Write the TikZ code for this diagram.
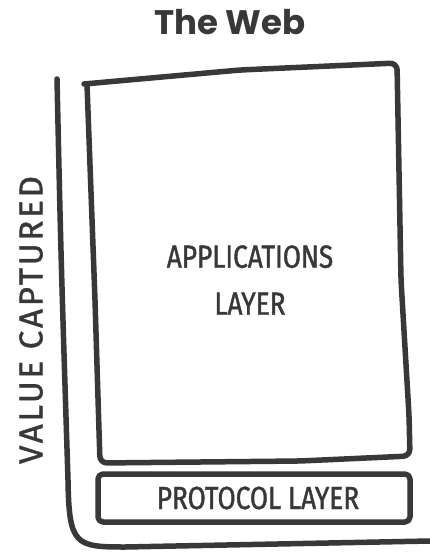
\documentclass[tikz,border=0pt]{standalone}
\usepackage{fontspec}
\newfontfamily\titlefont{Poppins}
\newfontfamily\handfont[FakeStretch=0.82, FakeBold=1.3]{Fira Sans}
\newfontfamily\handwide[LetterSpace=8.5, FakeBold=1.3]{Fira Sans}
\definecolor{ink}{HTML}{383838}

\tikzset{
  sketch/.style={draw=ink, line width=5.5pt, line cap=round, line join=round},
  handtext/.style={text=ink, font=\handfont\fontsize{32}{47}\selectfont, align=center, inner sep=0pt}
}

\begin{document}
\begin{tikzpicture}[x=1pt, y=-1pt]
     \useasboundingbox (0,0) rectangle (430,552);

     % title
     \node[text=ink, font=\titlefont\bfseries\fontsize{34}{40}\selectfont] (title) at (230,22) {The Web};

     % axis
     \draw[sketch] (57,79) .. controls (61,260) .. (68,480)
          .. controls (69,545) and (75,547) .. (125,547) -- (430,541);

     % layers
     \draw[sketch, rounded corners=7pt] (84,84) -- (240,70) -- (397,63) -- (401,280)
          -- (409,415) -- (410,456) -- (300,461) -- (100,463) -- (95,300) -- (87,84);
     \draw[sketch, rounded corners=5pt] (98,474) rectangle (410,522);

     % labels
     \node[handtext] (app) at (250,280) {APPLICATIONS\\LAYER};
     \node[handtext] (proto) at (258,498) {PROTOCOL LAYER};
     \node[handtext, font=\handwide\fontsize{33}{40}\selectfont, rotate=90] (value) at (31,320) {VALUE CAPTURED};

\end{tikzpicture}
\end{document}
